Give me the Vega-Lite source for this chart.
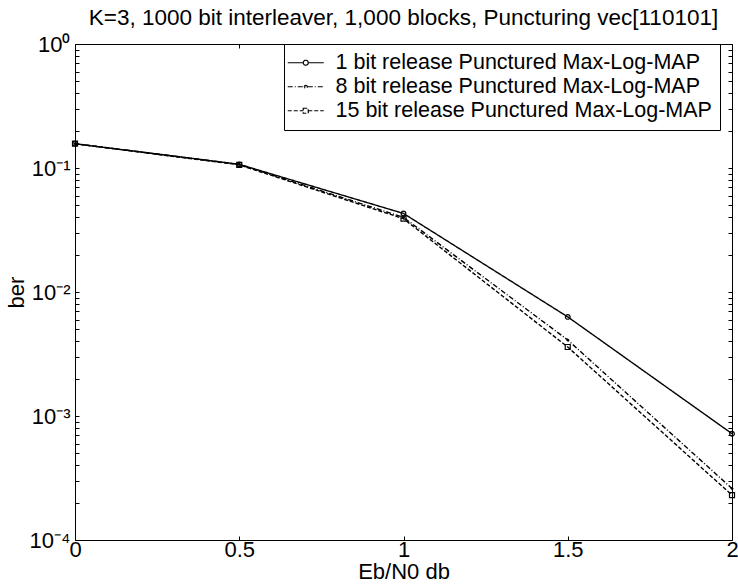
{
  "$schema": "https://vega.github.io/schema/vega-lite/v6.json",
  "autosize": "none",
  "width": 657,
  "height": 496,
  "padding": {"left": 75, "top": 44, "right": 6, "bottom": 46},
  "background": "white",
  "config": {
    "font": "Liberation Sans",
    "view": {"stroke": "black", "strokeWidth": 1},
    "axis": {
      "domain": false,
      "grid": false,
      "tickColor": "black",
      "tickSize": -4,
      "tickWidth": 1,
      "labelColor": "black",
      "labelFont": "Liberation Sans",
      "labelFontSize": 22,
      "titleFont": "Liberation Sans",
      "titleFontSize": 22,
      "titleFontWeight": "normal",
      "titleColor": "black"
    }
  },
  "title": {
    "text": "K=3, 1000 bit interleaver, 1,000 blocks, Puncturing vec[110101]",
    "font": "Liberation Sans",
    "fontSize": 22.5,
    "fontWeight": "normal",
    "color": "black",
    "offset": 4
  },
  "data": {
    "values": [
      {"ebn0": 0, "ber": 0.157, "series": "1 bit release Punctured Max-Log-MAP"},
      {"ebn0": 0.5, "ber": 0.107, "series": "1 bit release Punctured Max-Log-MAP"},
      {"ebn0": 1, "ber": 0.043, "series": "1 bit release Punctured Max-Log-MAP"},
      {"ebn0": 1.5, "ber": 0.0063, "series": "1 bit release Punctured Max-Log-MAP"},
      {"ebn0": 2, "ber": 0.00072, "series": "1 bit release Punctured Max-Log-MAP"},
      {"ebn0": 0, "ber": 0.157, "series": "8 bit release Punctured Max-Log-MAP"},
      {"ebn0": 0.5, "ber": 0.107, "series": "8 bit release Punctured Max-Log-MAP"},
      {"ebn0": 1, "ber": 0.040, "series": "8 bit release Punctured Max-Log-MAP"},
      {"ebn0": 1.5, "ber": 0.0041, "series": "8 bit release Punctured Max-Log-MAP"},
      {"ebn0": 2, "ber": 0.00026, "series": "8 bit release Punctured Max-Log-MAP"},
      {"ebn0": 0, "ber": 0.157, "series": "15 bit release Punctured Max-Log-MAP"},
      {"ebn0": 0.5, "ber": 0.106, "series": "15 bit release Punctured Max-Log-MAP"},
      {"ebn0": 1, "ber": 0.039, "series": "15 bit release Punctured Max-Log-MAP"},
      {"ebn0": 1.5, "ber": 0.0036, "series": "15 bit release Punctured Max-Log-MAP"},
      {"ebn0": 2, "ber": 0.00023, "series": "15 bit release Punctured Max-Log-MAP"}
    ]
  },
  "layer": [
    {
      "mark": {"type": "line", "color": "black", "strokeWidth": 1.4},
      "encoding": {
        "x": {
          "field": "ebn0", "type": "quantitative",
          "scale": {"domain": [0, 2], "nice": false, "zero": false},
          "axis": {"orient": "bottom", "values": [0, 0.5, 1, 1.5, 2], "format": "~g", "title": "Eb/N0 db", "labelPadding": 3, "titlePadding": 1, "labelFlush": false}
        },
        "y": {
          "field": "ber", "type": "quantitative",
          "scale": {"type": "log", "domain": [0.0001, 1], "nice": false},
          "axis": {
            "orient": "left",
            "title": "ber",
            "labelPadding": 9,
            "titlePadding": 1,
            "labelFlush": false,
            "labelOverlap": false,
            "values": [0.0001,0.0002,0.0003,0.0004,0.0005,0.0006,0.0007,0.0008,0.0009,0.001,0.002,0.003,0.004,0.005,0.006,0.007,0.008,0.009,0.01,0.02,0.03,0.04,0.05,0.06,0.07,0.08,0.09,0.1,0.2,0.3,0.4,0.5,0.6,0.7,0.8,0.9,1],
            "labelExpr": "datum.value == 1 ? '10⁰' : datum.value == 0.1 ? '10⁻¹' : datum.value == 0.01 ? '10⁻²' : datum.value == 0.001 ? '10⁻³' : datum.value == 0.0001 ? '10⁻⁴' : ''"
          }
        },
        "strokeDash": {
          "field": "series", "type": "nominal",
          "scale": {
            "domain": ["1 bit release Punctured Max-Log-MAP", "8 bit release Punctured Max-Log-MAP", "15 bit release Punctured Max-Log-MAP"],
            "range": [[1, 0], [5, 2, 1, 2], [4, 2]]
          },
          "legend": {
            "title": null,
            "orient": "none",
            "legendX": 209,
            "legendY": 0,
            "fillColor": "white",
            "strokeColor": "black",
            "padding": 8,
            "rowPadding": 1,
            "labelFontSize": 21.5,
            "labelFont": "Liberation Sans",
            "labelColor": "black",
            "labelLimit": 500,
            "symbolSize": 100,
            "symbolOffset": 3,
            "labelOffset": 19,
            "symbolStrokeColor": "black",
            "symbolStrokeWidth": 1.2,
            "symbolFillColor": "transparent",
            "encode": {
              "symbols": {
                "update": {
                  "shape": {"signal": "datum.value == '1 bit release Punctured Max-Log-MAP' ? 'M-3.6,0L-0.5,0M0.5,0L3.6,0M-0.5,0A0.5,0.5,0,1,1,0.5,0A0.5,0.5,0,1,1,-0.5,0' : datum.value == '8 bit release Punctured Max-Log-MAP' ? 'M-3.6,0L3.6,0M-0.3,0A0.3,0.3,0,1,1,0.3,0A0.3,0.3,0,1,1,-0.3,0' : 'M-3.6,0L-0.5,0M0.5,0L3.6,0M-0.5,-0.5L0.5,-0.5L0.5,0.5L-0.5,0.5Z'"}
                }
              }
            }
          }
        }
      }
    },
    {
      "transform": [{"filter": "datum.series == '1 bit release Punctured Max-Log-MAP'"}],
      "mark": {"type": "point", "shape": "circle", "color": "black", "filled": false, "strokeWidth": 1.2, "size": 22, "opacity": 1},
      "encoding": {
        "x": {"field": "ebn0", "type": "quantitative", "axis": null},
        "y": {"field": "ber", "type": "quantitative", "axis": null}
      }
    },
    {
      "transform": [{"filter": "datum.series == '8 bit release Punctured Max-Log-MAP'"}],
      "mark": {"type": "point", "shape": "diamond", "color": "black", "filled": true, "size": 12, "opacity": 1},
      "encoding": {
        "x": {"field": "ebn0", "type": "quantitative", "axis": null},
        "y": {"field": "ber", "type": "quantitative", "axis": null}
      }
    },
    {
      "transform": [{"filter": "datum.series == '15 bit release Punctured Max-Log-MAP'"}],
      "mark": {"type": "point", "shape": "square", "color": "black", "filled": false, "strokeWidth": 1.2, "size": 25, "opacity": 1},
      "encoding": {
        "x": {"field": "ebn0", "type": "quantitative", "axis": null},
        "y": {"field": "ber", "type": "quantitative", "axis": null}
      }
    },
    {
      "mark": {"type": "point", "opacity": 0},
      "encoding": {
        "x": {
          "field": "ebn0", "type": "quantitative",
          "axis": {"orient": "top", "values": [0, 0.5, 1, 1.5, 2], "labels": false, "title": null}
        },
        "y": {
          "field": "ber", "type": "quantitative",
          "axis": {
            "orient": "right", "labels": false, "title": null,
            "values": [0.0001,0.0002,0.0003,0.0004,0.0005,0.0006,0.0007,0.0008,0.0009,0.001,0.002,0.003,0.004,0.005,0.006,0.007,0.008,0.009,0.01,0.02,0.03,0.04,0.05,0.06,0.07,0.08,0.09,0.1,0.2,0.3,0.4,0.5,0.6,0.7,0.8,0.9,1]
          }
        }
      }
    }
  ],
  "resolve": {"axis": {"x": "independent", "y": "independent"}}
}
